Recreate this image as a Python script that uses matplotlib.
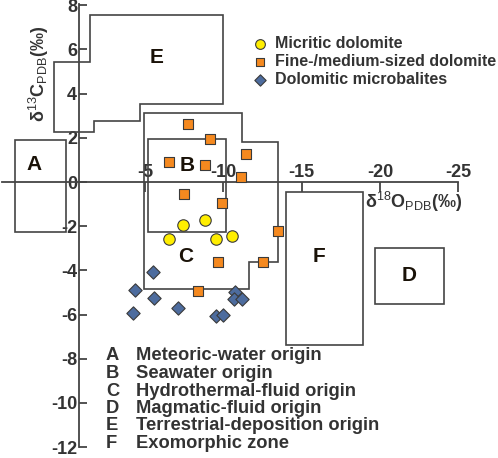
import matplotlib
matplotlib.use('Agg')
import matplotlib.pyplot as plt
from matplotlib.patches import Polygon

plt.rcParams['font.family'] = ['Liberation Sans', 'DejaVu Sans']
plt.rcParams['mathtext.fontset'] = 'custom'
plt.rcParams['mathtext.rm'] = 'Liberation Sans'
plt.rcParams['mathtext.it'] = 'Liberation Sans:italic'
plt.rcParams['mathtext.bf'] = 'Liberation Sans:bold'

# ---------------- data ----------------
micritic_x = [-6.53, -7.45, -8.83, -9.52, -10.53]
micritic_y = [-2.57, -1.94, -1.70, -2.60, -2.45]

fine_x = [-7.77, -9.15, -6.53, -8.83, -11.45, -11.15, -7.51, -9.94, -13.51, -12.55, -9.68, -8.37]
fine_y = [2.61, 1.94, 0.91, 0.79, 1.29, 0.21, -0.55, -0.94, -2.20, -3.64, -3.60, -4.92]

microb_x = [-5.53, -4.37, -5.58, -7.13, -4.22, -9.52, -10.00, -10.75, -10.70, -11.17]
microb_y = [-4.06, -4.89, -5.27, -5.71, -5.94, -6.06, -6.03, -4.97, -5.30, -5.30]

series_labels = ['Micritic dolomite', 'Fine-/medium-sized dolomite', 'Dolomitic microbalites']

# zone outlines (x = d18O, y = d13C)
zone_A = [(3.3, 1.89), (0.05, 1.89), (0.05, -2.27), (3.3, -2.27)]
zone_B = [(-5.21, 1.94), (-10.17, 1.94), (-10.17, -2.27), (-5.21, -2.27)]
zone_C = [(-4.94, 3.11), (-11.17, 3.11), (-11.17, 1.82), (-13.5, 1.82), (-13.5, -3.64),
          (-11.66, -3.64), (-11.66, -4.85), (-4.94, -4.85)]
zone_D = [(-19.68, -2.97), (-24.08, -2.97), (-24.08, -5.51), (-19.68, -5.51)]
zone_E = [(-1.49, 7.58), (-9.96, 7.58), (-9.96, 3.52), (-4.68, 3.52), (-4.68, 2.77),
          (-1.77, 2.77), (-1.77, 2.25), (0.80, 2.25), (0.80, 5.43), (-1.49, 5.43)]
zone_F = [(-14.0, -0.47), (-18.9, -0.47), (-18.9, -7.38), (-14.0, -7.38)]
zones = {'A': zone_A, 'B': zone_B, 'C': zone_C, 'D': zone_D, 'E': zone_E, 'F': zone_F}
zone_label_pos = {'A': (2.08, 0.81), 'B': (-7.69, 0.77), 'C': (-7.62, -3.39),
                  'D': (-21.85, -4.25), 'E': (-5.71, 5.66), 'F': (-16.11, -3.39)}
zone_letters = ['A', 'B', 'C', 'D', 'E', 'F']
zone_names = ['Meteoric-water origin', 'Seawater origin', 'Hydrothermal-fluid origin',
              'Magmatic-fluid origin', 'Terrestrial-deposition origin', 'Exomorphic zone']

x_ticks = [-5, -10, -15, -20, -25]
y_ticks = [-12, -10, -8, -6, -4, -2, 0, 2, 4, 6, 8]

# ---------------- figure ----------------
W, H = 498, 458
fig = plt.figure(figsize=(W / 100, H / 100), dpi=100)
ax = fig.add_axes([0, 0, 1, 1])
ax.set_xlim(4.25, -27.53)
ax.set_ylim(-12.49, 8.24)
ax.patch.set_alpha(0)

def fx(px):
    return px / W

def fy(py):
    return 1 - py / H

axc = '#444444'
txtc = '#333333'

for k in ['right', 'top']:
    ax.spines[k].set_visible(False)
ax.spines['top'].set_position(('data', 0))
ax.spines['bottom'].set_position(('data', 0))
ax.spines['left'].set_position(('data', -0.81))
ax.spines['bottom'].set_bounds(-25, 4.12)
ax.spines['left'].set_bounds(-12, 8.05)
for k in ['bottom', 'left']:
    ax.spines[k].set_color(axc)
    ax.spines[k].set_linewidth(1.3)

ax.set_xticks(x_ticks)
ax.set_xticklabels([str(v) for v in x_ticks])
ax.set_yticks(y_ticks)
ax.set_yticklabels([str(v) for v in y_ticks])
ax.tick_params(axis='x', bottom=True, top=False, labelbottom=False, labeltop=True,
               direction='out', length=7, width=1.3, color=axc, pad=-6.3,
               labelsize=13, labelcolor=txtc)
ax.tick_params(axis='y', left=True, right=False, direction='in', length=6, width=1.3,
               color=axc, pad=1.5, labelsize=13, labelcolor=txtc)
for lab in ax.get_xticklabels() + ax.get_yticklabels():
    lab.set_fontweight('bold')

# zones
for letter in zone_letters:
    ax.add_patch(Polygon(zones[letter], closed=True, fill=False, edgecolor=axc,
                         linewidth=1.2, zorder=2))
    lx, ly = zone_label_pos[letter]
    ax.text(lx, ly, letter, ha='center', va='center', fontsize=15, fontweight='bold',
            color='#1a1208', zorder=3)

# points
edge = '#3a3a3a'
s1 = ax.scatter(micritic_x, micritic_y, s=68, marker='o', facecolor='#FFEE00',
                edgecolor=edge, linewidth=0.8, zorder=5)
s2 = ax.scatter(fine_x, fine_y, s=44, marker='s', facecolor='#F5891F',
                edgecolor=edge, linewidth=0.8, zorder=5)
s3 = ax.scatter(microb_x, microb_y, s=46, marker='D', facecolor='#4D6C9E',
                edgecolor=edge, linewidth=0.8, zorder=4)

leg = ax.legend([s1, s2, s3], series_labels, loc='upper left',
                bbox_to_anchor=(fx(252), fy(36)), bbox_transform=fig.transFigure,
                frameon=False, borderaxespad=0, borderpad=0, handlelength=1.0,
                handletextpad=0.45, labelspacing=0.2, markerscale=0.85,
                prop={'weight': 'bold', 'size': 11.5})
for t in leg.get_texts():
    t.set_color(txtc)

# axis labels
fig.text(fx(39), fy(74), r'δ$^{13}$C$_{\rm PDB}$(‰)', rotation=90, ha='center', va='center',
         fontsize=13, fontweight='bold', color=txtc)
fig.text(fx(414), fy(202), r'δ$^{18}$O$_{\rm PDB}$(‰)', ha='center', va='center',
         fontsize=13, fontweight='bold', color=txtc)

# zone key
row_y = [356, 373.7, 391, 408.7, 426, 443]
for i, (letter, name) in enumerate(zip(zone_letters, zone_names)):
    fig.text(fx(106), fy(row_y[i]), letter, ha='left', va='center', fontsize=13.2,
             fontweight='bold', color=txtc)
    fig.text(fx(136), fy(row_y[i]), name, ha='left', va='center', fontsize=13.2,
             fontweight='bold', color=txtc)

fig.savefig('out.png', dpi=100)
